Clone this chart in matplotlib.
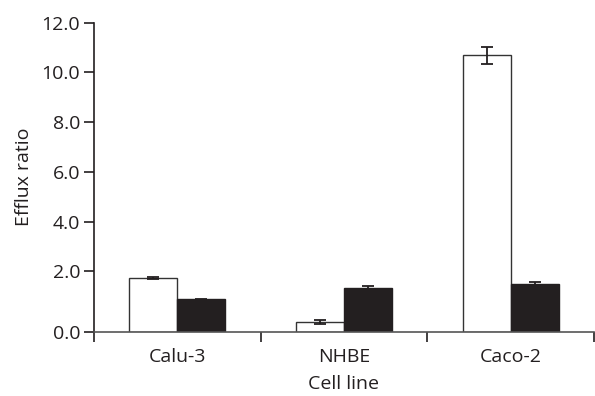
import matplotlib
matplotlib.use("Agg")
import matplotlib.pyplot as plt
import numpy as np

cells = ["Calu-3", "NHBE", "Caco-2"]
open_vals = [2.15, 0.39, 11.12]
open_err = [0.04, 0.08, 0.35]
filled_vals = [1.30, 1.77, 1.91]
filled_err = [0.03, 0.08, 0.09]
tick_vals = [0, 2, 4, 6, 8, 10, 12]

# the 0.0 tick sits a little under the linear 0 in the original
base = -0.43
ink = "#231f20"

plt.rcParams["font.family"] = ["Open Sans", "DejaVu Sans"]

fig = plt.figure(figsize=(5.95, 3.96), dpi=100)
ax = fig.add_axes([94 / 595, 64.3 / 396, 500 / 595, 309 / 396])

x = np.arange(len(cells))
w = 0.288

ax.bar(x - w / 2, open_vals, w, bottom=base, color="white",
       edgecolor="#333333", linewidth=1.0)
ax.bar(x + w / 2, filled_vals, w, bottom=base, color=ink,
       edgecolor=ink, linewidth=1.0)
ax.errorbar(x - w / 2, np.array(open_vals) + base, yerr=open_err, fmt="none",
            ecolor=ink, elinewidth=1.3, capsize=4, capthick=1.3)
ax.errorbar(x + w / 2, np.array(filled_vals) + base, yerr=filled_err, fmt="none",
            ecolor=ink, elinewidth=1.3, capsize=4, capthick=1.3)

ax.set_xlim(-0.5, len(cells) - 0.5)
ax.set_ylim(base, 12)

yt = [base] + tick_vals[1:]
ax.set_yticks(yt)
ax.set_yticklabels([f"{v:.1f}" for v in tick_vals])

ax.set_xticks(x)
ax.set_xticklabels(cells)
ax.set_xticks(np.arange(-0.5, len(cells)), minor=True)
ax.tick_params(axis="x", which="major", length=0, pad=12)
ax.tick_params(axis="x", which="minor", length=7, width=1.2, color=ink)
ax.tick_params(axis="y", length=7, width=1.2, color=ink, pad=3)
ax.tick_params(labelsize=14, labelcolor=ink)

for s in ["top", "right"]:
    ax.spines[s].set_visible(False)
ax.spines["left"].set_color(ink)
ax.spines["left"].set_linewidth(1.2)
ax.spines["bottom"].set_color("#555555")
ax.spines["bottom"].set_linewidth(1.2)

ax.set_xlabel("Cell line", fontsize=14, color=ink, labelpad=6)
ax.set_ylabel("Efflux ratio", fontsize=14, color=ink, labelpad=6)

fig.savefig("out.png", dpi=100)
